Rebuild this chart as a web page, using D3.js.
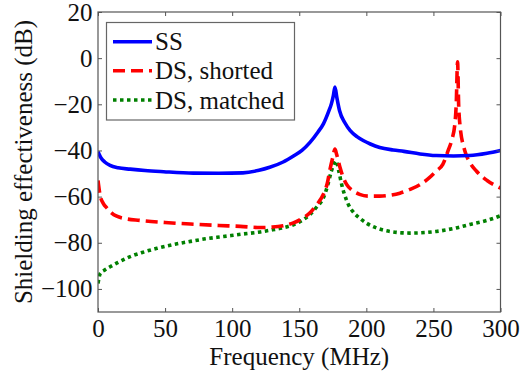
<!DOCTYPE html>
<html>
<head>
<meta charset="utf-8">
<script src="https://cdn.jsdelivr.net/npm/d3@7"></script>
<style>
  body { margin: 0; background: #fff; }
  svg text { font-family: "Liberation Serif", "DejaVu Serif", "Times New Roman", Times, serif; fill: #111; }
</style>
</head>
<body>
<div id="chart"></div>
<script>
// values (frequency MHz, shielding effectiveness dB)
const ssFreq = [0, 2, 5, 9, 15, 24, 35, 49, 71, 90, 108, 120, 128, 138, 146, 152, 158, 164, 168, 172, 174, 175.5, 176.6, 178, 180, 184, 188, 193, 198, 203, 210, 220, 228, 240, 252, 265, 277, 290, 300];
const ssVals = [-40.5, -43, -45, -46.5, -47.5, -48.1, -48.7, -49.2, -49.8, -49.9, -49.7, -48.6, -47.3, -45, -42.3, -40, -36.5, -32, -28.5, -23, -19.7, -16, -12.5, -17, -22.7, -28, -31.4, -34, -35.8, -37.2, -38.7, -39.8, -40.4, -41.5, -42.2, -42.4, -42.2, -41.2, -40];

const shortFreq = [0, 1.7, 4, 6.7, 10, 14, 20, 31, 50, 69, 90, 106, 121, 130, 138, 145.6, 152, 158, 163, 168, 171, 173, 175, 176.6, 178, 180.4, 183, 185.3, 190, 195, 202, 210, 217.6, 225, 232.5, 240, 247, 252, 257, 261, 263.5, 266, 267, 268, 268.8, 269.7, 273.4, 277, 282, 290, 300];
const shortVals = [-53, -59.8, -63, -65, -67, -68.5, -69.5, -70.3, -71.2, -71.9, -72.5, -72.9, -73.4, -73.2, -72.6, -71.4, -69.5, -67, -63.5, -59, -54, -48, -43, -39.4, -42, -47.4, -52, -54.7, -57.5, -59, -59.8, -59.8, -59.4, -58.5, -56.9, -54.8, -51.8, -49, -46, -40, -35.8, -28.5, -20, -1.6, -20, -28.5, -40.1, -45, -48.9, -53, -56.3];

const matchFreq = [0, 1.7, 5, 9, 15, 24, 33, 44, 56, 69, 80, 93.5, 108, 121, 130, 138, 145.6, 152, 158, 163, 168, 171, 174, 177.4, 179.5, 181.6, 184, 186.6, 190, 195, 201, 207.7, 217.6, 232.5, 252, 265, 277, 290, 300];
const matchVals = [-97.6, -93.3, -91.8, -90.4, -88.5, -86, -84.2, -82.4, -80.8, -79.4, -78.3, -77.3, -76.2, -75.3, -74.4, -73.5, -72.2, -70.3, -67.8, -64.5, -60.5, -55.5, -48.9, -44.5, -49, -54.7, -59.5, -63.4, -66.5, -69.3, -71.8, -73.6, -75.1, -75.8, -75.1, -73.8, -72.1, -70.3, -68.3];

const seriesNames = ["SS", "DS, shorted", "DS, matched"];
const xTicks = [0, 50, 100, 150, 200, 250, 300];
const yTicks = [-100, -80, -60, -40, -20, 0, 20];

const width = 526, height = 374;
const plotL = 98, plotR = 500.5, plotT = 12, plotB = 312;
const serifFont = "'Liberation Serif', 'DejaVu Serif', 'Times New Roman', Times, serif";

const svg = d3.select("#chart").append("svg")
    .attr("width", width)
    .attr("height", height)
    .attr("font-family", serifFont);

const x = d3.scaleLinear().domain([0, 300]).range([plotL, plotR]);
const y = d3.scaleLinear().domain([-110, 20]).range([plotB, plotT]);

svg.append("clipPath").attr("id", "plotclip")
    .append("rect")
    .attr("x", plotL).attr("y", plotT)
    .attr("width", plotR - plotL).attr("height", plotB - plotT);

const styles = [
    { color: "#0000ff", dash: null },
    { color: "#ff0000", dash: "12,6" },
    { color: "#008000", dash: "3.5,3.5" }
];

const series = [
    ssFreq.map((f, i) => [f, ssVals[i]]),
    shortFreq.map((f, i) => [f, shortVals[i]]),
    matchFreq.map((f, i) => [f, matchVals[i]])
];

const line = d3.line()
    .x(d => x(d[0]))
    .y(d => y(d[1]))
    .curve(d3.curveMonotoneX);

// draw back to front so blue sits on top like the original
[2, 1, 0].forEach(i => {
    svg.append("path")
        .attr("clip-path", "url(#plotclip)")
        .attr("d", line(series[i]))
        .attr("fill", "none")
        .attr("stroke", styles[i].color)
        .attr("stroke-width", 3.6)
        .attr("stroke-dasharray", styles[i].dash);
});

// axes, MATLAB style ticks pointing inward
const fontSize = "25px";

const xAxis = svg.append("g")
    .attr("transform", `translate(0,${plotB})`)
    .call(d3.axisBottom(x).tickValues(xTicks).tickSizeInner(-4).tickSizeOuter(0).tickPadding(7.5));
const yAxis = svg.append("g")
    .attr("transform", `translate(${plotL},0)`)
    .call(d3.axisLeft(y).tickValues(yTicks).tickSizeInner(-4).tickSizeOuter(0).tickPadding(5.5));
const xTop = svg.append("g")
    .attr("transform", `translate(0,${plotT})`)
    .call(d3.axisTop(x).tickValues(xTicks).tickSizeInner(-4).tickSizeOuter(0).tickFormat(""));
const yRight = svg.append("g")
    .attr("transform", `translate(${plotR},0)`)
    .call(d3.axisRight(y).tickValues(yTicks).tickSizeInner(-4).tickSizeOuter(0).tickFormat(""));

[xAxis, yAxis, xTop, yRight].forEach(g => {
    g.attr("font-family", serifFont).attr("font-size", 25);
    g.select(".domain").remove();
    g.selectAll("line").attr("stroke", "#555");
    g.selectAll("text")
        .style("font-size", fontSize)
        .style("font-family", serifFont)
        .attr("fill", "#111");
});

svg.append("rect")
    .attr("x", plotL).attr("y", plotT)
    .attr("width", plotR - plotL).attr("height", plotB - plotT)
    .attr("fill", "none")
    .attr("stroke", "#555")
    .attr("stroke-width", 1.2);

svg.append("text")
    .attr("x", (plotL + plotR) / 2)
    .attr("y", 365)
    .attr("text-anchor", "middle")
    .style("font-size", fontSize)
    .style("font-family", serifFont)
    .text("Frequency (MHz)");

svg.append("text")
    .attr("transform", `translate(32,${(plotT + plotB) / 2}) rotate(-90)`)
    .attr("text-anchor", "middle")
    .style("font-size", fontSize)
    .style("font-family", serifFont)
    .text("Shielding effectiveness (dB)");

// legend
const legend = svg.append("g");
legend.append("rect")
    .attr("x", 106.5).attr("y", 22.5)
    .attr("width", 188).attr("height", 97.5)
    .attr("fill", "#fff")
    .attr("stroke", "#666")
    .attr("stroke-width", 1.2);

const legendRows = [41.7, 70.7, 100];
seriesNames.forEach((name, i) => {
    legend.append("line")
        .attr("x1", 113).attr("x2", 152)
        .attr("y1", legendRows[i]).attr("y2", legendRows[i])
        .attr("stroke", styles[i].color)
        .attr("stroke-width", 3.6)
        .attr("stroke-dasharray", styles[i].dash);
    legend.append("text")
        .attr("x", 155)
        .attr("y", legendRows[i] + 8.5)
        .style("font-size", fontSize)
        .style("font-family", serifFont)
        .text(name);
});
</script>
</body>
</html>
